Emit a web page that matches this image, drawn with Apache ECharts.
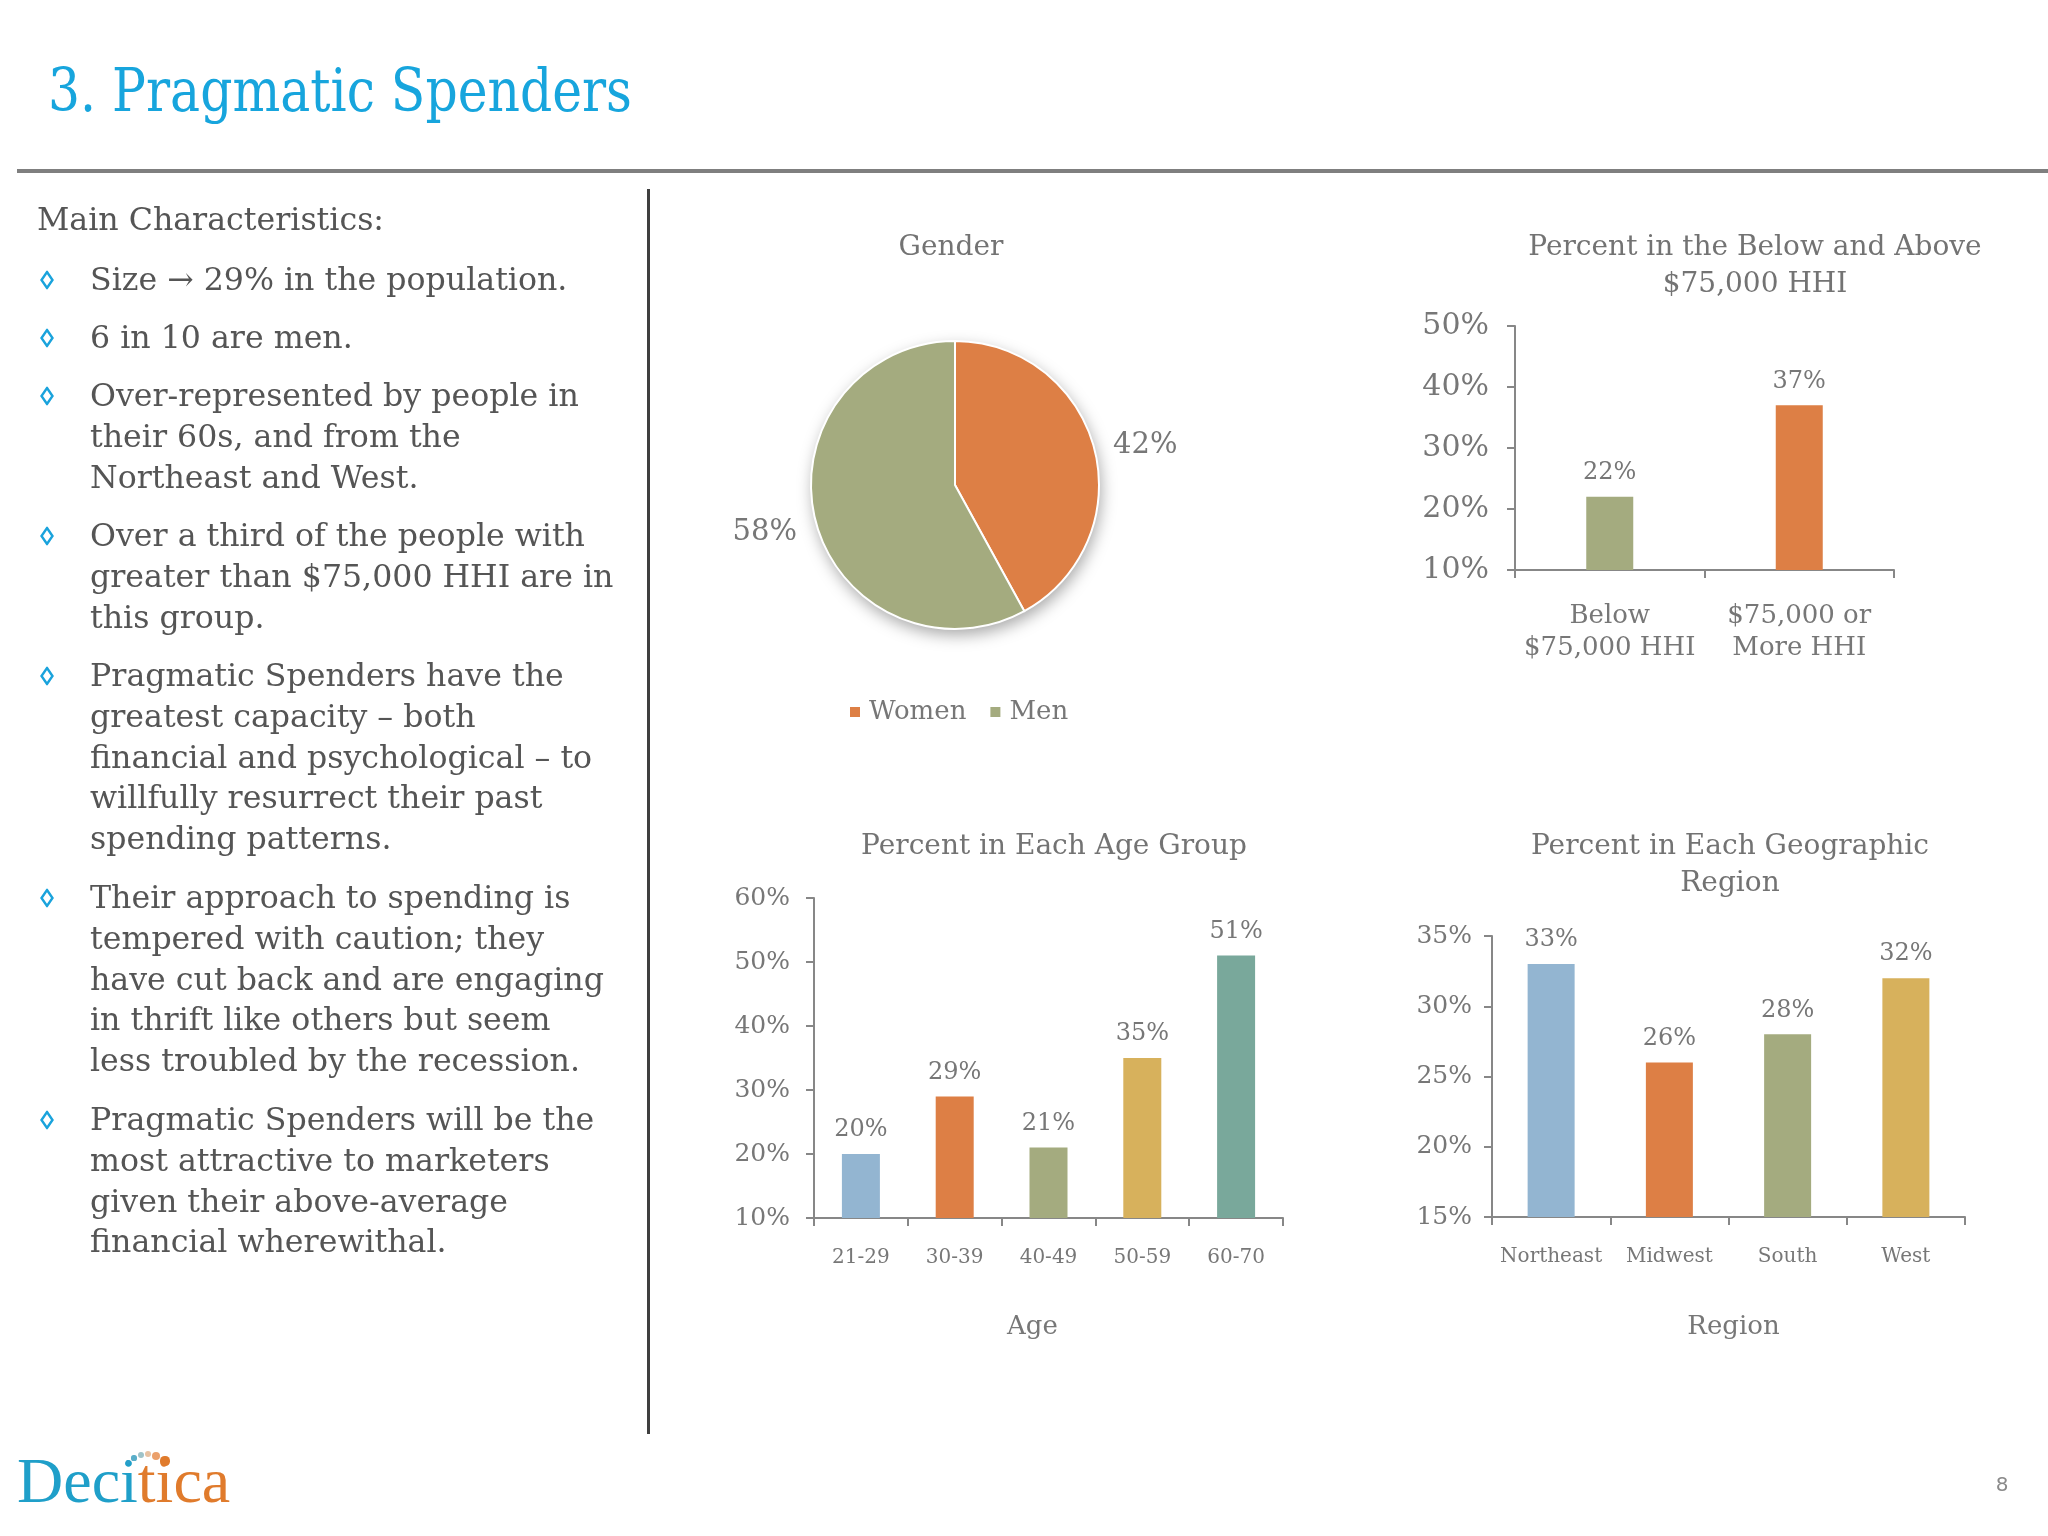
<!DOCTYPE html>
<html>
<head>
<meta charset="utf-8">
<script src="https://cdn.jsdelivr.net/npm/echarts@6/dist/echarts.min.js"></script>
<style>
  html, body { margin: 0; padding: 0; background: #ffffff; }
  #page { position: relative; width: 2048px; height: 1536px; overflow: hidden; background: #ffffff; font-family: "DejaVu Serif", serif; }
  #chart { position: absolute; left: 0; top: 0; width: 2048px; height: 1536px; }
  .abs { position: absolute; white-space: nowrap; }
  #title { left: 48px; top: 90px; color: #17a5dd; font-size: 59px; line-height: 1; transform-origin: left center; transform: translateY(-50%); }
  #hrule { left: 17px; top: 169px; width: 2031px; height: 4px; background: #7f7f7f; }
  #vrule { left: 647px; top: 189px; width: 3px; height: 1245px; background: #3f3f3f; }
  .body { color: #555555; }
  .line { position: absolute; white-space: nowrap; line-height: 1; transform: translateY(-50%); }
  .dia { position: absolute; width: 14px; height: 19px; transform: translate(-50%, -50%); }
  .ctitle { position: absolute; white-space: nowrap; color: #737373; font-size: 28px; line-height: 1; transform: translate(-50%, -50%); }
  #logo { left: 17px; top: 1500px; font-family: "Liberation Serif", serif; font-size: 64px; line-height: 1; transform: translateY(-80%); }
  .dot { position: absolute; border-radius: 50%; }
  #pnum { left: 2002px; top: 1484px; font-family: "DejaVu Sans", sans-serif; font-size: 20px; color: #8a8a8a; transform: translate(-50%, -50%); }
</style>
</head>
<body>
<div id="page">
  <div id="chart"></div>
  <div id="title" class="abs">3. Pragmatic Spenders</div>
  <div id="hrule" class="abs"></div>
  <div id="vrule" class="abs"></div>
  <div id="leftText" class="body"></div>
  <div id="chartTitles"></div>
  <div id="logo" class="abs"><span style="color:#1f9fc9">Deci</span><span style="color:#e07b2c">tica</span></div>
  <div id="logoDots"></div>
  <div id="pnum" class="abs">8</div>
</div>
<script>
// ---------------- data ----------------
const genderCategories = ['Women', 'Men'];
const genderValues = [42, 58];

const hhiCategories = ['Below\n$75,000 HHI', '$75,000 or\nMore HHI'];
const hhiValues = [22, 37];
const hhiAxis = [10, 50, 10];      // min, max, interval

const ageCategories = ['21-29', '30-39', '40-49', '50-59', '60-70'];
const ageValues = [20, 29, 21, 35, 51];
const ageAxis = [10, 60, 10];

const regionCategories = ['Northeast', 'Midwest', 'South', 'West'];
const regionValues = [33, 26, 28, 32];
const regionAxis = [15, 35, 5];

// ---------------- text ----------------
const heading = 'Main Characteristics:';
const bullets = [
  ['Size \u2192 29% in the population.'],
  ['6 in 10 are men.'],
  ['Over-represented by people in', 'their 60s, and from the', 'Northeast and West.'],
  ['Over a third of the people with', 'greater than $75,000 HHI are in', 'this group.'],
  ['Pragmatic Spenders have the', 'greatest capacity \u2013 both', 'financial and psychological \u2013 to', 'willfully resurrect their past', 'spending patterns.'],
  ['Their approach to spending is', 'tempered with caution; they', 'have cut back and are engaging', 'in thrift like others but seem', 'less troubled by the recession.'],
  ['Pragmatic Spenders will be the', 'most attractive to marketers', 'given their above-average', 'financial wherewithal.']
];
const bulletFirstLineY = [280, 338, 396, 536, 676, 898, 1120];
const lineStep = 40.8;

const chartTitles = [
  { lines: ['Gender'], x: 951, y: 246 },
  { lines: ['Percent in the Below and Above', '$75,000 HHI'], x: 1755, y: 246 },
  { lines: ['Percent in Each Age Group'], x: 1054, y: 845 },
  { lines: ['Percent in Each Geographic', 'Region'], x: 1730, y: 845 }
];

// ---------------- colours ----------------
const cBlue = '#93b5d1', cOrange = '#dd7f45', cGreen = '#a4ab7f', cYellow = '#d7b15c', cTeal = '#79a89b';
const genderColors = [cOrange, cGreen];
const hhiColors = [cGreen, cOrange];
const ageColors = [cBlue, cOrange, cGreen, cYellow, cTeal];
const regionColors = [cBlue, cOrange, cGreen, cYellow];

// ---------------- HTML text layout ----------------
(function buildText() {
  const lt = document.getElementById('leftText');
  const probe = document.createElement('span');
  probe.style.cssText = 'position:absolute;visibility:hidden;white-space:nowrap;font-family:"DejaVu Serif";font-size:30px;';
  probe.textContent = 'Over-represented by people in';
  document.body.appendChild(probe);
  let fs = 30 * 489 / probe.getBoundingClientRect().width;
  fs = Math.max(24, Math.min(34, fs));
  probe.remove();

  const h = document.createElement('div');
  h.className = 'line'; h.textContent = heading;
  h.style.left = '37px'; h.style.top = '220px'; h.style.fontSize = fs + 'px';
  lt.appendChild(h);

  const diamondSvg = '<svg width="14" height="19" viewBox="0 0 14 19"><polygon points="7,1.5 12.5,9.5 7,17.5 1.5,9.5" fill="none" stroke="#1aa3dc" stroke-width="2.4" stroke-linejoin="miter"/></svg>';
  bullets.forEach((b, i) => {
    const d = document.createElement('div');
    d.className = 'dia'; d.innerHTML = diamondSvg;
    d.style.left = '47px'; d.style.top = bulletFirstLineY[i] + 'px';
    lt.appendChild(d);
    b.forEach((t, j) => {
      const l = document.createElement('div');
      l.className = 'line'; l.textContent = t;
      l.style.left = '90px'; l.style.top = (bulletFirstLineY[i] + j * lineStep) + 'px';
      l.style.fontSize = fs + 'px';
      lt.appendChild(l);
    });
  });

  const ct = document.getElementById('chartTitles');
  chartTitles.forEach(c => {
    c.lines.forEach((t, j) => {
      const e = document.createElement('div');
      e.className = 'ctitle'; e.textContent = t;
      e.style.left = c.x + 'px'; e.style.top = (c.y + j * 37) + 'px';
      ct.appendChild(e);
    });
  });

  const ti = document.getElementById('title');
  const w = ti.getBoundingClientRect().width;
  ti.style.transform = 'translateY(-50%) scaleX(' + (584 / w) + ')';

  const dots = [
    [128, 1462, 2.2, '#2a9fc9'], [134, 1458, 2.6, '#5aaec9'], [141, 1455, 3.0, '#9fc3c9'],
    [148, 1454, 3.4, '#e8c2a2'], [156, 1456, 4.0, '#eba06b'], [165, 1461, 4.6, '#e07b2c']
  ];
  const ld = document.getElementById('logoDots');
  dots.forEach(p => {
    const e = document.createElement('div');
    e.className = 'dot';
    e.style.left = (p[0] - p[2]) + 'px'; e.style.top = (p[1] - p[2]) + 'px';
    e.style.width = (2 * p[2]) + 'px'; e.style.height = (2 * p[2]) + 'px';
    e.style.background = p[3];
    ld.appendChild(e);
  });
})();

// ---------------- chart ----------------
const FONT = 'DejaVu Serif';
const TXT = '#777777';
const AXC = '#878787';

function catAxis(gridIndex, data, fontSize, margin, extra) {
  return Object.assign({
    type: 'category', gridIndex, data,
    axisLine: { show: true, lineStyle: { color: AXC, width: 2 } },
    axisTick: { show: true, length: 8, lineStyle: { color: AXC, width: 2 } },
    axisLabel: { fontFamily: FONT, fontSize, color: TXT, margin, interval: 0 },
    splitLine: { show: false }
  }, extra || {});
}
function valAxis(gridIndex, range, fontSize, margin) {
  return {
    type: 'value', gridIndex, min: range[0], max: range[1], interval: range[2],
    axisLine: { show: true, lineStyle: { color: AXC, width: 2 } },
    axisTick: { show: true, length: 8, lineStyle: { color: AXC, width: 2 } },
    axisLabel: { fontFamily: FONT, fontSize, color: TXT, margin, formatter: '{value}%' },
    splitLine: { show: false }
  };
}
function barSeries(idx, values, colors, width) {
  return {
    type: 'bar', xAxisIndex: idx, yAxisIndex: idx, barWidth: width, silent: true,
    data: values.map((v, i) => ({ value: v, itemStyle: { color: colors[i] } })),
    label: { show: true, position: 'top', distance: 12, formatter: '{c}%', fontFamily: FONT, fontSize: 24, color: TXT }
  };
}

const chart = echarts.init(document.getElementById('chart'), null, { renderer: 'canvas' });
chart.setOption({
  animation: false,
  backgroundColor: 'transparent',
  legend: {
    data: genderCategories, left: 843, top: 694, icon: 'rect', itemWidth: 12, itemHeight: 12, itemGap: 22,
    textStyle: { fontFamily: FONT, fontSize: 26, color: TXT, padding: [0, 0, 0, 3] }, selectedMode: false
  },
  grid: [
    { left: 1515, top: 326, width: 379, height: 244 },
    { left: 814, top: 898, width: 469, height: 320 },
    { left: 1492, top: 936, width: 473, height: 281 }
  ],
  xAxis: [
    catAxis(0, hhiCategories, 26, 30, { axisLabel: { fontFamily: FONT, fontSize: 26, color: TXT, margin: 30, interval: 0, lineHeight: 32 } }),
    catAxis(1, ageCategories, 20, 30, { name: 'Age', nameLocation: 'middle', nameGap: 96, nameTextStyle: { fontFamily: FONT, fontSize: 26, color: TXT, padding: [0, 32, 0, 0] } }),
    catAxis(2, regionCategories, 20, 30, { name: 'Region', nameLocation: 'middle', nameGap: 97, nameTextStyle: { fontFamily: FONT, fontSize: 26, color: TXT, padding: [0, 0, 0, 10] } })
  ],
  yAxis: [
    valAxis(0, hhiAxis, 30, 26),
    valAxis(1, ageAxis, 25, 24),
    valAxis(2, regionAxis, 25, 20)
  ],
  series: [
    {
      type: 'pie', center: [955, 485], radius: 144, silent: true, z: 1,
      data: [{ value: 1, name: '_bg', itemStyle: { color: '#ffffff' } }],
      label: { show: false }, labelLine: { show: false },
      itemStyle: { shadowBlur: 16, shadowColor: 'rgba(0,0,0,0.35)', shadowOffsetX: 2, shadowOffsetY: 6 },
      legendHoverLink: false
    },
    {
      type: 'pie', center: [955, 485], radius: 144, startAngle: 90, clockwise: true, silent: true, z: 2,
      avoidLabelOverlap: false,
      data: genderCategories.map((n, i) => ({
        name: n, value: genderValues[i], itemStyle: { color: genderColors[i] },
        label: i === 1 ? { offset: [0, 8] } : {}
      })),
      itemStyle: { borderColor: '#ffffff', borderWidth: 2 },
      label: { show: true, position: 'outside', formatter: '{c}%', fontFamily: FONT, fontSize: 29, color: TXT },
      labelLine: { show: false, length: 14, length2: 0 }
    },
    barSeries(0, hhiValues, hhiColors, 47),
    barSeries(1, ageValues, ageColors, 38),
    barSeries(2, regionValues, regionColors, 47)
  ]
});
</script>
</body>
</html>
